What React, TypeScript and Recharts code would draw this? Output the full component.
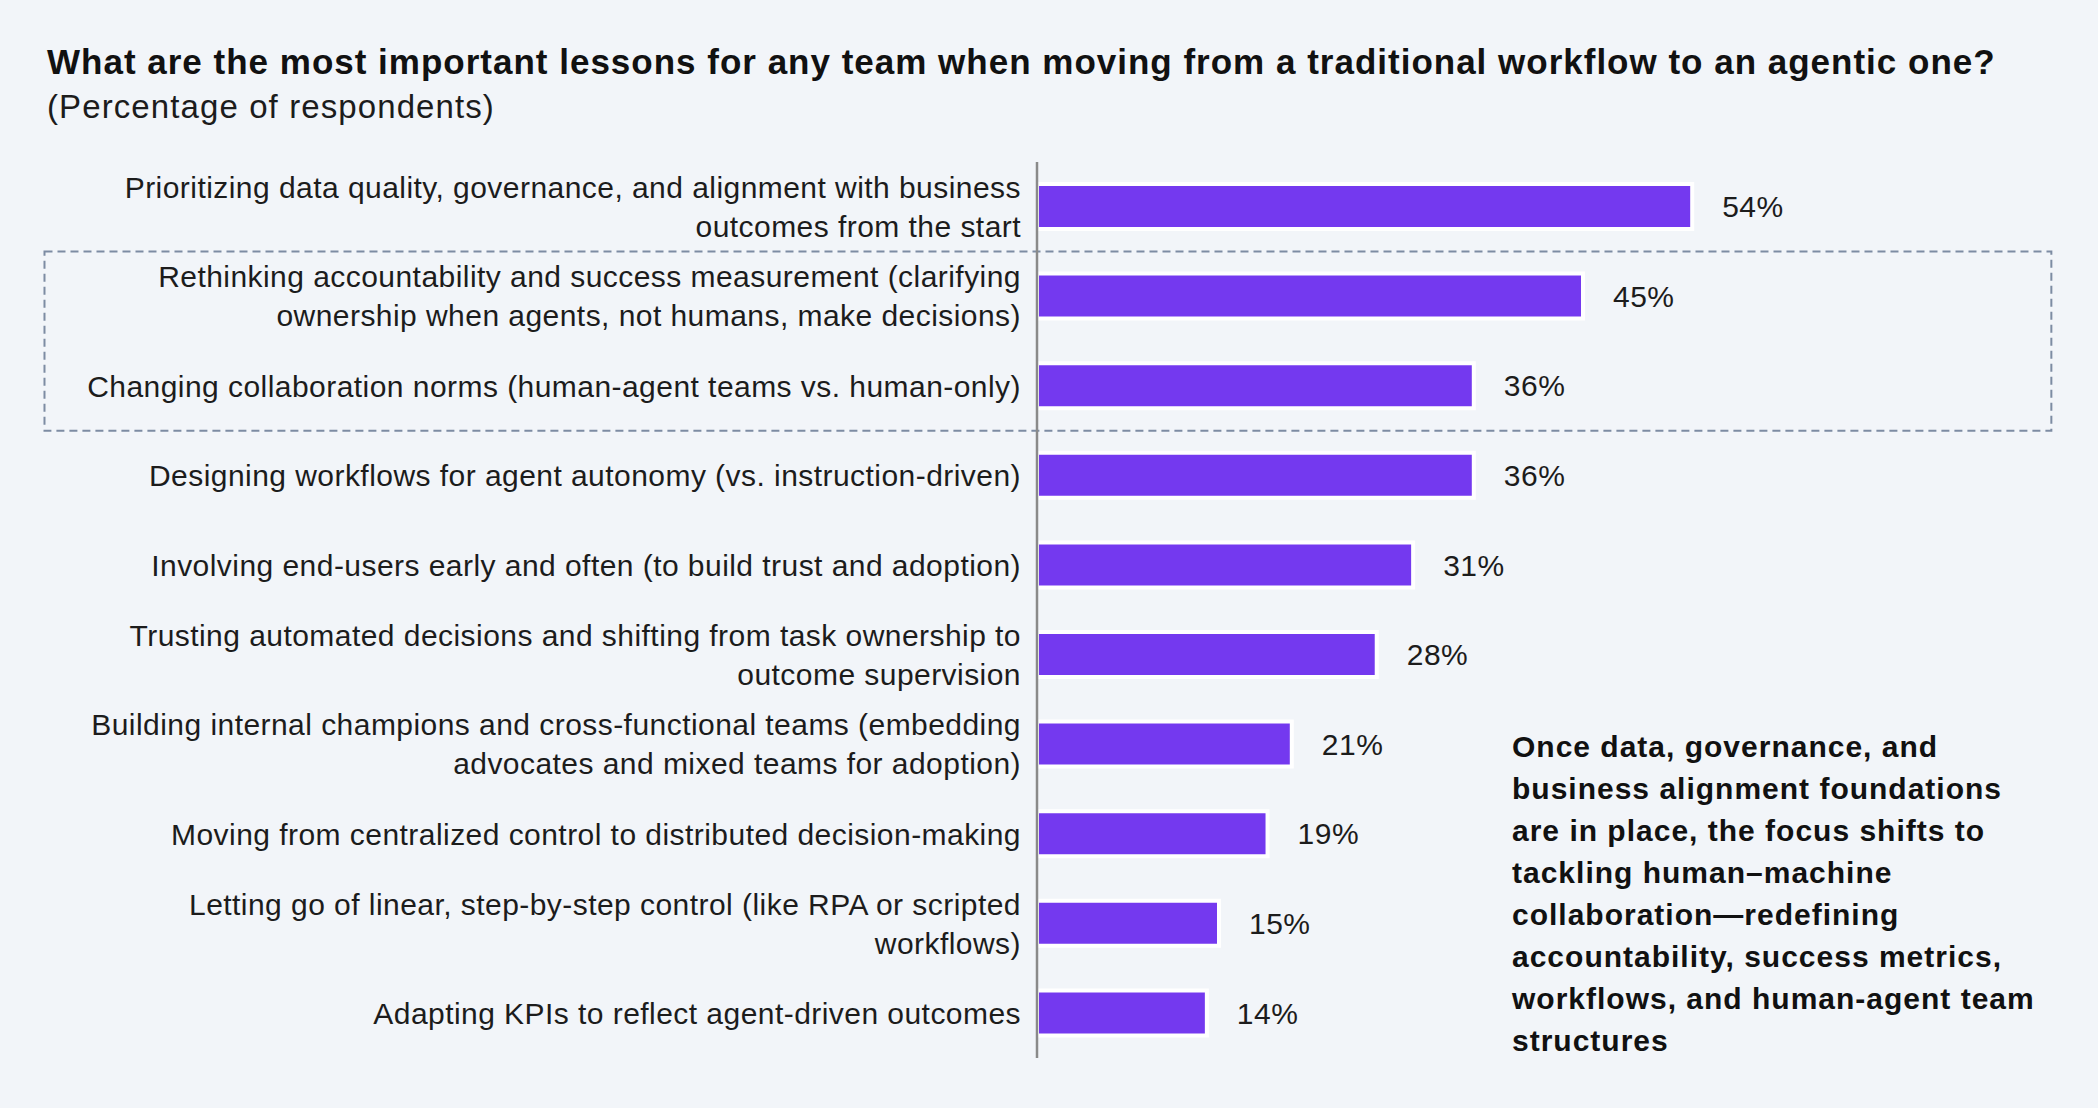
import React from 'react'
import { Bar, BarChart, LabelList, ReferenceArea, XAxis, YAxis } from 'recharts'

const FONT = '"Liberation Sans", Arial, Helvetica, sans-serif'
const BG = '#f2f5f9'
const PURPLE = '#7439ef'

const lessons = [
  'Prioritizing data quality, governance, and alignment with business\noutcomes from the start',
  'Rethinking accountability and success measurement (clarifying\nownership when agents, not humans, make decisions)',
  'Changing collaboration norms (human-agent teams vs. human-only)',
  'Designing workflows for agent autonomy (vs. instruction-driven)',
  'Involving end-users early and often (to build trust and adoption)',
  'Trusting automated decisions and shifting from task ownership to\noutcome supervision',
  'Building internal champions and cross-functional teams (embedding\nadvocates and mixed teams for adoption)',
  'Moving from centralized control to distributed decision-making',
  'Letting go of linear, step-by-step control (like RPA or scripted\nworkflows)',
  'Adapting KPIs to reflect agent-driven outcomes',
]
const shares = [54, 45, 36, 36, 31, 28, 21, 19, 15, 14]

// the dashed box groups these two rows
const boxFrom = lessons[1]
const boxTo = lessons[2]

const noteLines = [
  'Once data, governance, and',
  'business alignment foundations',
  'are in place, the focus shifts to',
  'tackling human\u2013machine',
  'collaboration\u2014redefining',
  'accountability, success metrics,',
  'workflows, and human-agent team',
  'structures',
]

const data = lessons.map((name, i) => ({ name, value: shares[i] }))

function LessonTick(props: any) {
  const { x, y, payload } = props
  const lines = String(payload.value).split('\n')
  const lh = 39
  const start = -((lines.length - 1) * lh) / 2
  return (
    <text
      x={x}
      y={y}
      textAnchor="end"
      fill="#1c1c1c"
      fontSize={30}
      letterSpacing={0.45}
      fontFamily={FONT}
    >
      {lines.map((l, i) => (
        <tspan key={i} x={x} dy={i === 0 ? start : lh} dominantBaseline="central">
          {l}
        </tspan>
      ))}
    </text>
  )
}

export default function App() {
  return (
    <div
      style={{
        position: 'absolute',
        left: 0,
        top: 0,
        width: 2098,
        height: 1108,
        background: BG,
        fontFamily: FONT,
        color: '#111',
      }}
    >
      <div
        style={{
          position: 'absolute',
          left: 47,
          top: 42,
          fontSize: 35,
          lineHeight: '40px',
          letterSpacing: 1,
          fontWeight: 700,
          whiteSpace: 'nowrap',
        }}
      >
        What are the most important lessons for any team when moving from a traditional workflow to an agentic one?
      </div>
      <div
        style={{
          position: 'absolute',
          left: 47,
          top: 88,
          fontSize: 33,
          lineHeight: '38px',
          letterSpacing: 1.1,
          whiteSpace: 'nowrap',
          color: '#1c1c1c',
        }}
      >
        (Percentage of respondents)
      </div>

      <div style={{ position: 'absolute', left: 0, top: 0 }}>
        <BarChart
          width={2098}
          height={1108}
          data={data}
          layout="vertical"
          margin={{ top: 162, right: 333, bottom: 50, left: 0 }}
          barSize={45}
        >
          <XAxis type="number" domain={[0, 60]} hide allowDataOverflow />
          <YAxis
            type="category"
            dataKey="name"
            width={1037}
            axisLine={{ stroke: '#8a8a8a', strokeWidth: 2.5 }}
            tickLine={false}
            tickSize={0}
            tickMargin={16}
            interval={0}
            tick={<LessonTick />}
          />
          <ReferenceArea
            y1={boxFrom}
            y2={boxTo}
            x1={-81.8}
            x2={83.6}
            ifOverflow="visible"
            fill="none"
            fillOpacity={0}
            stroke="#7d8ca3"
            strokeWidth={2}
            strokeDasharray="8 5"
          />
          <Bar dataKey="value" fill={PURPLE} stroke="#ffffff" strokeWidth={4} isAnimationActive={false}>
            <LabelList
              dataKey="value"
              position="right"
              offset={30}
              formatter={(v: any) => `${v}%`}
              fill="#1c1c1c"
              fontSize={30}
              letterSpacing={0.5}
              fontFamily={FONT}
            />
          </Bar>
        </BarChart>
      </div>

      <div
        style={{
          position: 'absolute',
          left: 1512,
          top: 726,
          fontSize: 30,
          fontWeight: 700,
          letterSpacing: 1,
          lineHeight: '42px',
          whiteSpace: 'nowrap',
        }}
      >
        {noteLines.map((l) => (
          <div key={l}>{l}</div>
        ))}
      </div>
    </div>
  )
}
